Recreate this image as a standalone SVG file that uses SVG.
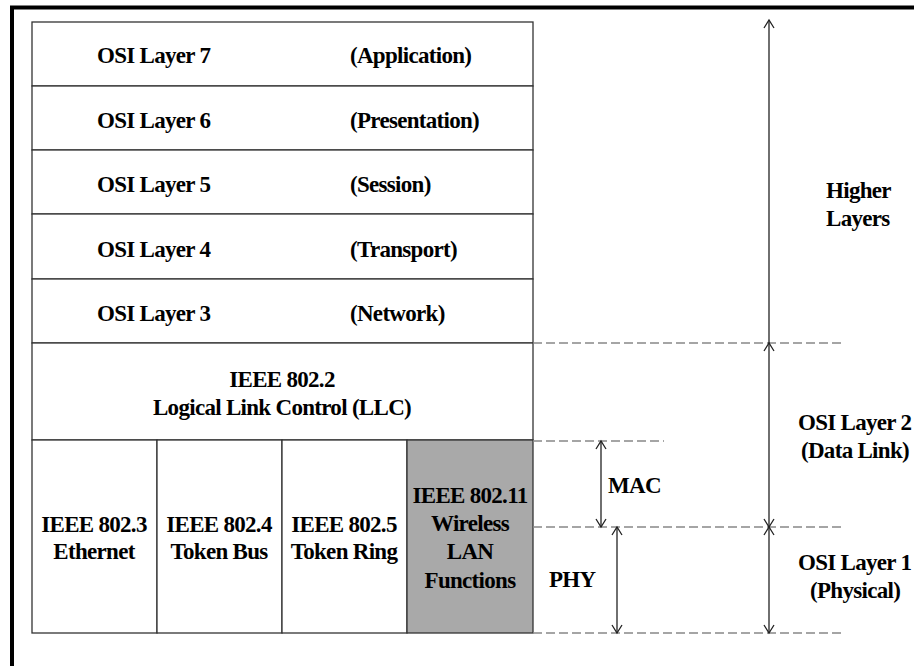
<svg xmlns="http://www.w3.org/2000/svg" width="914" height="666" viewBox="0 0 914 666">
<defs>
<style>
text{font-family:"Liberation Serif","Times New Roman",serif;font-weight:bold;font-size:23px;fill:#000;letter-spacing:-0.7px}
.c{text-anchor:middle}
.cell{fill:#fff;stroke:#333;stroke-width:1.3}
.gray{fill:#a9a9a9}
.dash{stroke:#888;stroke-width:1.6;stroke-dasharray:9 4;fill:none}
.arr{stroke:#222;stroke-width:1.3;fill:none;marker-start:url(#h);marker-end:url(#h)}
.arr1{stroke:#222;stroke-width:1.3;fill:none;marker-end:url(#h)}
</style>
<marker id="h" viewBox="-10 -6 12 12" refX="0" refY="0" markerWidth="12" markerHeight="12" markerUnits="userSpaceOnUse" orient="auto-start-reverse">
<path d="M-8,-5 L0,0 L-8,5" fill="none" stroke="#222" stroke-width="1.3"/>
</marker>
</defs>
<rect x="0" y="0" width="914" height="666" fill="#fff"/>
<rect x="12" y="7.5" width="950" height="700" fill="none" stroke="#000" stroke-width="4"/>

<g id="layer7"><rect class="cell" x="32" y="22" width="501" height="64"/><text x="97" y="63">OSI Layer 7</text><text x="350" y="63">(Application)</text></g>
<g id="layer6"><rect class="cell" x="32" y="86" width="501" height="64"/><text x="97" y="128">OSI Layer 6</text><text x="350" y="128">(Presentation)</text></g>
<g id="layer5"><rect class="cell" x="32" y="150" width="501" height="64"/><text x="97" y="192">OSI Layer 5</text><text x="350" y="192">(Session)</text></g>
<g id="layer4"><rect class="cell" x="32" y="214" width="501" height="65"/><text x="97" y="257">OSI Layer 4</text><text x="350" y="257">(Transport)</text></g>
<g id="layer3"><rect class="cell" x="32" y="279" width="501" height="64"/><text x="97" y="321">OSI Layer 3</text><text x="350" y="321">(Network)</text></g>
<g id="llc"><rect class="cell" x="32" y="343" width="501" height="97"/><text class="c" x="282" y="387">IEEE 802.2</text><text class="c" x="282" y="415">Logical Link Control (LLC)</text></g>
<g id="ieee8023"><rect class="cell" x="32" y="440" width="125" height="193"/><text class="c" x="94" y="532">IEEE 802.3</text><text class="c" x="94" y="559">Ethernet</text></g>
<g id="ieee8024"><rect class="cell" x="157" y="440" width="125" height="193"/><text class="c" x="219" y="532">IEEE 802.4</text><text class="c" x="219" y="559">Token Bus</text></g>
<g id="ieee8025"><rect class="cell" x="282" y="440" width="125" height="193"/><text class="c" x="344" y="532">IEEE 802.5</text><text class="c" x="344" y="559">Token Ring</text></g>
<g id="ieee80211"><rect class="cell gray" x="407" y="440" width="126" height="193"/><text class="c" x="470" y="503">IEEE 802.11</text><text class="c" x="470" y="531">Wireless</text><text class="c" x="470" y="559">LAN</text><text class="c" x="470" y="588">Functions</text></g>

<g id="connectors">
<line class="dash" x1="533" y1="343" x2="842" y2="343"/>
<line class="dash" x1="533" y1="441" x2="664" y2="441"/>
<line class="dash" x1="533" y1="527" x2="842" y2="527"/>
<line class="dash" x1="533" y1="633" x2="842" y2="633"/>
<line class="arr1" x1="769" y1="343" x2="769" y2="20"/>
<line class="arr" x1="769" y1="343" x2="769" y2="527"/>
<line class="arr" x1="769" y1="527" x2="769" y2="633"/>
<line class="arr" x1="601" y1="441" x2="601" y2="527"/>
<line class="arr" x1="617" y1="527" x2="617" y2="633"/>
</g>

<g id="labels">
<text x="826" y="198">Higher</text><text x="826" y="226">Layers</text>
<text x="608" y="493">MAC</text>
<text x="549" y="587">PHY</text>
<text x="798" y="430">OSI Layer 2</text><text x="801" y="458">(Data Link)</text>
<text x="798" y="570">OSI Layer 1</text><text x="810" y="598">(Physical)</text>
</g>
</svg>
